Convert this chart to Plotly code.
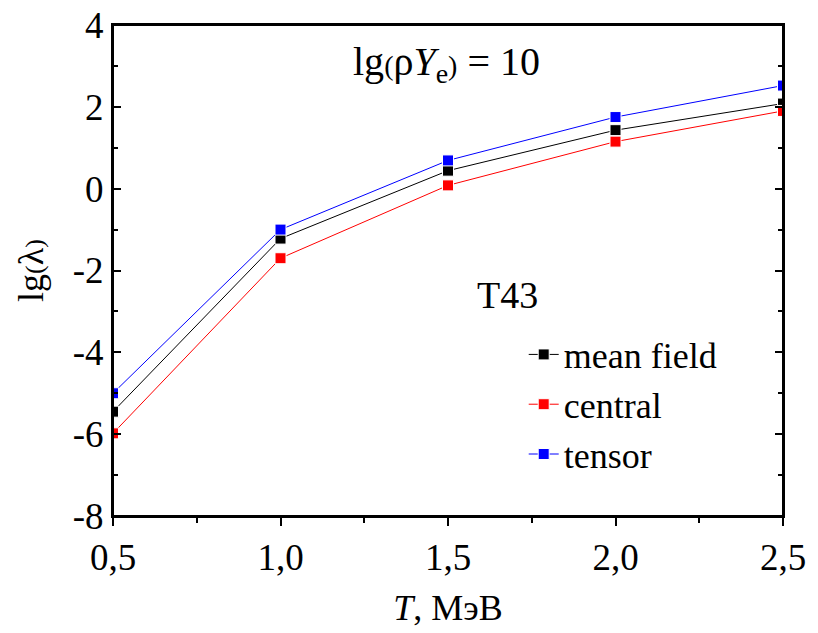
import plotly.graph_objects as go

T = [0.5, 1.0, 1.5, 2.0, 2.5]
mean_field = [-5.45, -1.22, 0.44, 1.43, 2.08]
central = [-5.98, -1.70, 0.08, 1.15, 1.90]
tensor = [-5.0, -1.0, 0.69, 1.75, 2.52]

y_tickvals = [-8, -6, -4, -2, 0, 2, 4]
y_ticktext = ["-8", "-6", "-4", "-2", "0", "2", "4"]
x_tickvals = [0.5, 1.0, 1.5, 2.0, 2.5]
x_ticktext = ["0,5", "1,0", "1,5", "2,0", "2,5"]

FONT = "Liberation Serif"

series = [
    ("mean field", mean_field, "#000000"),
    ("central", central, "#ff0000"),
    ("tensor", tensor, "#0000ff"),
]

fig = go.Figure()
for name, vals, col in series:
    fig.add_trace(go.Scatter(
        x=T, y=vals, name=name, mode="lines+markers",
        line=dict(color=col, width=1),
        marker=dict(symbol="square", size=11, color=col,
                    line=dict(color="white", width=1)),
    ))

axis_common = dict(linecolor="black", linewidth=2, showline=True, automargin=False,
                   showgrid=False, zeroline=False, ticklen=8, tickwidth=1.5,
                   tickcolor="black")

fig.update_layout(
    width=818, height=633,
    margin=dict(l=113, r=35, t=25, b=117),
    plot_bgcolor="white", paper_bgcolor="white",
    font=dict(family=FONT, size=37, color="black"),
    separators=", ",
    showlegend=True,
    legend=dict(x=0.613, y=0.39, xanchor="left", yanchor="top",
                font=dict(size=36, family=FONT), bgcolor="rgba(0,0,0,0)",
                itemwidth=30),
    xaxis=dict(range=[0.5, 2.5], tickvals=x_tickvals, ticktext=x_ticktext,
               ticks="outside", mirror=True,
               minor=dict(dtick=0.25, ticks="outside", ticklen=5, tickwidth=1.5, tickcolor="black"),
               title=dict(text="<i>T</i>, МэВ", font=dict(size=36, family=FONT), standoff=17),
               tickfont=dict(size=37, family=FONT),
               **axis_common),
    yaxis=dict(range=[-8, 4], tickvals=y_tickvals, ticktext=y_ticktext,
               ticks="inside", mirror="ticks",
               minor=dict(dtick=1, ticks="inside", ticklen=5, tickwidth=1.5, tickcolor="black"),
               title=dict(text="lg<span style='font-size:26px'>(</span>λ<span style='font-size:26px'>)</span>",
                          font=dict(size=36, family=FONT), standoff=18),
               tickfont=dict(size=37, family=FONT),
               **axis_common),
    shapes=[dict(type="rect", xref="paper", yref="paper", x0=0, x1=1, y0=0, y1=1,
                 line=dict(color="black", width=2), fillcolor="rgba(0,0,0,0)", layer="above")],
    annotations=[
        dict(xref="paper", yref="paper", x=0.355, y=0.92, xanchor="left", yanchor="middle",
             showarrow=False,
             text="lg<span style='font-size:28px'>(</span>ρ<i>Y</i><sub>e</sub><span style='font-size:28px'>)</span> = 10",
             font=dict(size=40, family=FONT)),
        dict(xref="paper", yref="paper", x=0.54, y=0.45, xanchor="left", yanchor="middle",
             showarrow=False, text="T43", font=dict(size=38, family=FONT)),
    ],
)

fig.write_html("out.html")
